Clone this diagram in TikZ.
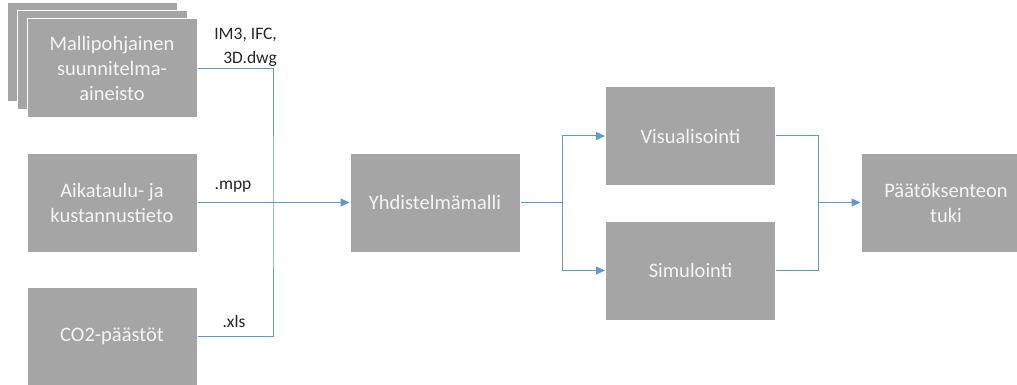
\documentclass[tikz,border=0pt]{standalone}
\usepackage{fontspec}
\setmainfont{Carlito}
\usetikzlibrary{arrows.meta,positioning}
\definecolor{dgBox}{HTML}{A5A5A5}
\definecolor{dgLine}{HTML}{5B9BD5}
\definecolor{dgText}{HTML}{F4F4F4}
\tikzset{
  dgnode/.style={
    draw=white, line width=1pt, fill=dgBox, minimum width=170pt, minimum height=99pt,
    inner sep=2pt, align=center, text=dgText, font=\fontsize{20.5}{25}\selectfont
  },
  conduit/.style={draw=dgLine, line width=1pt},
  flow/.style={conduit, -{Triangle[length=9pt,width=8pt]}},
  tag/.style={font=\fontsize{17.5}{24}\selectfont, inner sep=0pt, text=black!85}
}
\begin{document}
\begin{tikzpicture}[x=1pt,y=-1pt]
  \useasboundingbox[fill=white] (0,0) rectangle (1017,385);
  % input data
  \node[dgnode] (model3) at (92,52.5) {};
  \node[dgnode] (model2) at (102,60.5) {};
  \node[dgnode] (model) at (112,68.5) {Mallipohjainen\\suunnitelma-\\aineisto};
  \node[dgnode, below=34pt of model] (sched) {Aikataulu- ja\\kustannustieto};
  \node[dgnode, below=34pt of sched] (co2) {CO2-päästöt};
  % processing
  \node[dgnode] (combo) at (435,202.5) {Yhdistelmämalli};
  \node[dgnode] (visu) at (690.5,136) {Visualisointi};
  \node[dgnode] (simu) at (690.5,270.5) {Simulointi};
  \node[dgnode] (deci) at (946,202.5) {Päätöksenteon\\tuki};
  % file formats
  \node[tag, anchor=base east, align=right] (fmtmodel) at (277,63.3) {IM3, IFC,\\3D.dwg};
  \node[tag, anchor=base] (fmtsched) at (233,189) {.mpp};
  \node[tag, anchor=base] (fmtco2) at (234,327) {.xls};
  % connectors
  \coordinate (bus) at (273,202.5);
  \coordinate (split) at (562,202.5);
  \coordinate (merge) at (818,202.5);
  \draw[conduit] (model.east) -| (bus) |- (co2.east);
  \draw[flow] (sched.east) -- (combo.west);
  \draw[conduit] (combo.east) -- (split);
  \draw[flow] (split) |- (visu.west);
  \draw[flow] (split) |- (simu.west);
  \draw[conduit] (visu.east) -| (merge) |- (simu.east);
  \draw[flow] (merge) -- (deci.west);
\end{tikzpicture}
\end{document}
